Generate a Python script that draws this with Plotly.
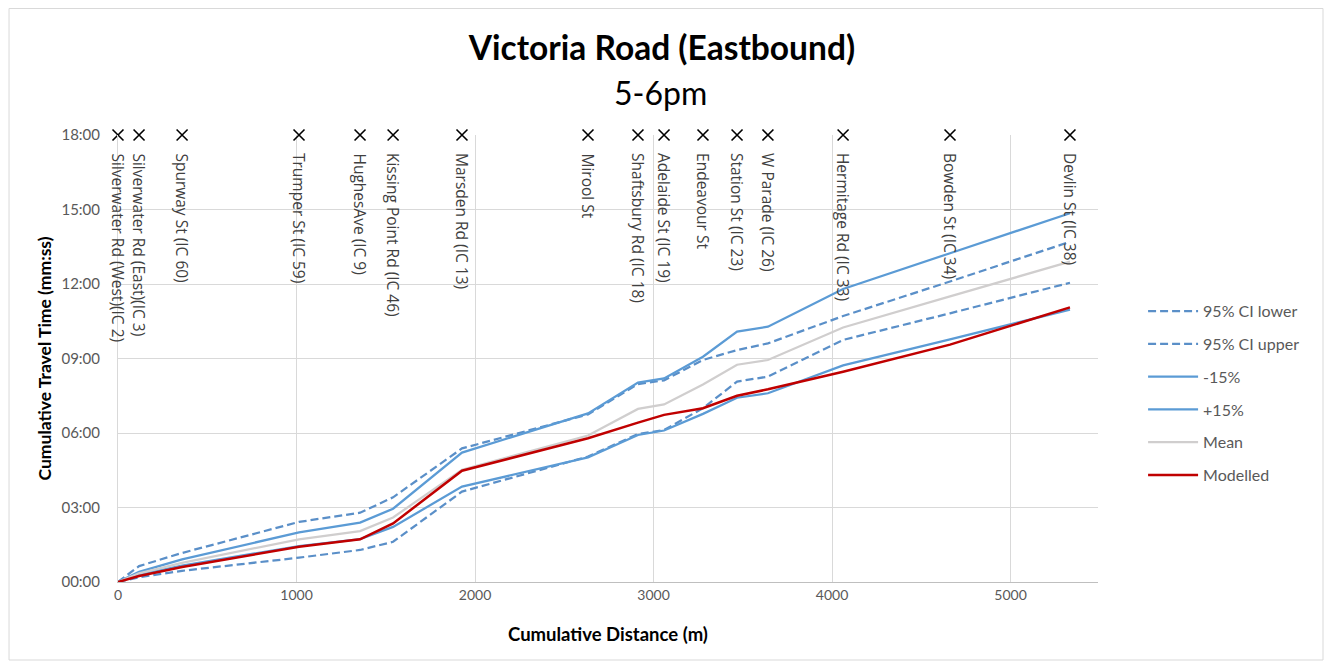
import plotly.graph_objects as go

# intersections along the route (cumulative distance in m)
intersections = ['Silverwater Rd (West)(IC 2)', 'Silverwater Rd (East)(IC 3)', 'Spurway St (IC 60)',
                 'Trumper St (IC 59)', 'HughesAve (IC 9)', 'Kissing Point Rd (IC 46)', 'Marsden Rd (IC 13)',
                 'Mirool St', 'Shaftsbury Rd (IC 18)', 'Adelaide St (IC 19)', 'Endeavour St',
                 'Station St (IC 23)', 'W Parade (IC 26)', 'Hermitage Rd (IC 33)', 'Bowden St (IC 34)',
                 'Devlin St (IC 38)']
distance = [0, 118, 359, 1014, 1356, 1541, 1927, 2633, 2913, 3059, 3277, 3468, 3641, 4062, 4661, 5333]

# cumulative travel time, minutes
ci_lower = [0, 0.19, 0.45, 0.98, 1.29, 1.62, 3.64, 5.05, 5.96, 6.12, 7.0, 8.07, 8.27, 9.75, 10.82, 12.05]
ci_upper = [0, 0.64, 1.17, 2.42, 2.79, 3.41, 5.38, 6.75, 7.97, 8.12, 8.94, 9.34, 9.61, 10.71, 12.1, 13.7]
minus15 = [0, 0.29, 0.66, 1.45, 1.73, 2.22, 3.84, 5.02, 5.92, 6.1, 6.77, 7.42, 7.6, 8.72, 9.77, 10.97]
plus15 = [0, 0.41, 0.91, 2.0, 2.39, 2.95, 5.21, 6.79, 8.03, 8.2, 9.07, 10.08, 10.28, 11.8, 13.24, 14.85]
mean_time = [0, 0.35, 0.77, 1.72, 2.05, 2.6, 4.52, 5.9, 6.97, 7.15, 7.95, 8.75, 8.94, 10.25, 11.5, 12.9]
modelled = [0, 0.24, 0.6, 1.42, 1.72, 2.36, 4.48, 5.79, 6.42, 6.73, 7.0, 7.5, 7.76, 8.47, 9.56, 11.06]

marker_level = 18
y_ticks = [0, 3, 6, 9, 12, 15, 18]
y_tick_labels = ['00:00', '03:00', '06:00', '09:00', '12:00', '15:00', '18:00']
x_ticks = [0, 1000, 2000, 3000, 4000, 5000]

FONT = 'Lato'
blue = '#5B9BD5'
dash_blue = '#5A8FC8'

fig = go.Figure()
series = [
    ('95% CI lower', ci_lower, dash_blue, '8px,4px', 2.25),
    ('95% CI upper', ci_upper, dash_blue, '8px,4px', 2.25),
    ('-15%', minus15, blue, 'solid', 2.25),
    ('+15%', plus15, blue, 'solid', 2.25),
    ('Mean', mean_time, '#D0CECE', 'solid', 2.25),
    ('Modelled', modelled, '#C00000', 'solid', 2.5),
]
for i, (name, vals, col, dash, w) in enumerate(series):
    fig.add_trace(go.Scatter(x=distance, y=vals, mode='lines', name=name, legendgroup=str(i),
                             line=dict(color=col, width=w, dash=dash)))

fig.add_trace(go.Scatter(x=distance, y=[marker_level] * len(distance), mode='markers', showlegend=False,
                         cliponaxis=False,
                         marker=dict(symbol='x-thin', size=11, line=dict(color='black', width=1.6))))

for d, name in zip(distance, intersections):
    fig.add_annotation(x=d, y=marker_level, text=name, textangle=90, showarrow=False,
                       xanchor='center', yanchor='top', yshift=-16,
                       font=dict(family='Open Sans', size=15.5, color='#404040'))

fig.add_annotation(x=0.554, y=1.096, xref='paper', yref='paper', text='5-6pm', showarrow=False,
                   xanchor='center', yanchor='middle', font=dict(family=FONT, size=32, color='black'))
# chart border
fig.add_shape(type='rect', xref='paper', yref='paper', x0=-0.1112, x1=1.2296, y0=-0.1745, y1=1.2830,
              line=dict(color='#D9D9D9', width=1))

fig.update_layout(
    width=1333, height=667,
    margin=dict(l=110, r=243, t=127, b=93),
    paper_bgcolor='white', plot_bgcolor='white',
    font=dict(family=FONT, color='#595959'),
    title=dict(text='<b>Victoria Road (Eastbound)</b>', x=0.4906, xanchor='center', y=0.94, yanchor='middle',
               font=dict(family=FONT, size=33.5, color='black')),
    xaxis=dict(range=[0, 5490], tickvals=x_ticks, showgrid=True, gridcolor='#D9D9D9', gridwidth=1,
               showline=True, linecolor='#BFBFBF', zeroline=False, ticks='',
               tickfont=dict(size=14, color='#595959'),
               title=dict(text='<b>Cumulative Distance (m)</b>', standoff=26,
                          font=dict(size=18.5, color='black'))),
    yaxis=dict(range=[0, 18], tickvals=y_ticks, ticktext=y_tick_labels, showgrid=True,
               gridcolor='#D9D9D9', gridwidth=1, showline=True, linecolor='#D9D9D9', zeroline=False,
               ticks='', ticklabelstandoff=14, tickfont=dict(size=15, color='#595959'),
               title=dict(text='<b>Cumulative Travel Time (mm:ss)</b>', standoff=5,
                          font=dict(size=17.5, color='black'))),
    legend=dict(x=1.046, y=0.644, xanchor='left', yanchor='top', tracegroupgap=9, itemwidth=50,
                font=dict(size=16, color='#595959'), bgcolor='rgba(0,0,0,0)'),
)

fig.write_html('out.html')
